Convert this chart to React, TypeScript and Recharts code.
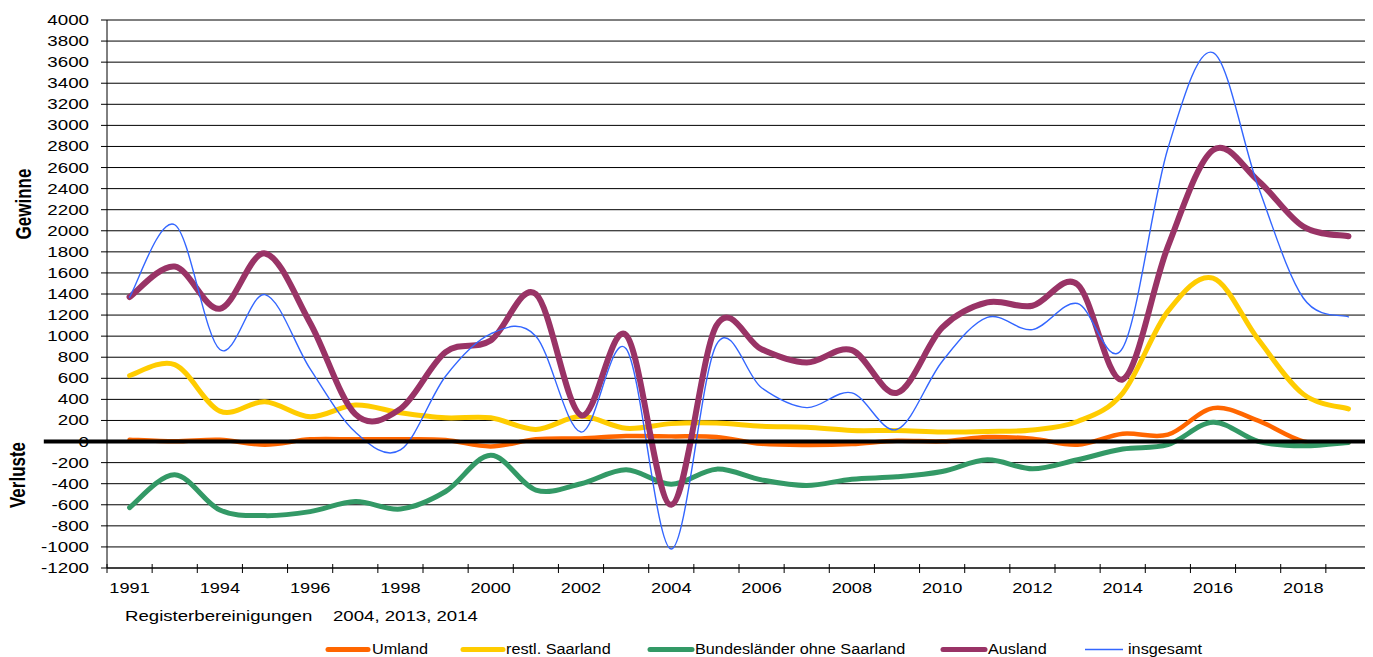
import React from 'react';
import { LineChart, Line, XAxis, YAxis, CartesianGrid, ReferenceLine } from 'recharts';

// ---------- data ----------
const categories = [
  '1991', '1993', '1994', '1995', '1996', '1997', '1998', '1999', '2000', '2001',
  '2002', '2003', '2004', '2005', '2006', '2007', '2008', '2009', '2010', '2011',
  '2012', '2013', '2014', '2015', '2016', '2017', '2018', '2019',
];
const umland = [18, 2, 17, -30, 21, 21, 21, 14, -46, 21, 30, 52, 49, 43, -21, -33, -24, 8, 2, 43, 27, -30, 74, 65, 317, 198, 2, -8];
const restlSaarland = [625, 730, 289, 378, 235, 346, 273, 225, 225, 115, 240, 125, 170, 175, 145, 135, 105, 105, 90, 95, 110, 190, 460, 1235, 1550, 970, 450, 310];
const bundeslaender = [-627, -316, -650, -703, -665, -570, -640, -474, -131, -460, -400, -268, -405, -262, -364, -417, -357, -335, -284, -173, -259, -173, -71, -30, 183, 2, -40, -8];
const ausland = [1371, 1660, 1260, 1785, 1125, 260, 310, 848, 959, 1400, 250, 1010, -600, 1100, 875, 750, 868, 462, 1080, 1320, 1288, 1490, 590, 1850, 2765, 2475, 2040, 1948];
const insgesamt = [1370, 2057, 873, 1394, 689, 90, -80, 620, 1022, 1000, 90, 880, -1020, 920, 510, 322, 462, 115, 760, 1178, 1062, 1310, 889, 2780, 3690, 2420, 1362, 1183];

const yTicks = [4000, 3800, 3600, 3400, 3200, 3000, 2800, 2600, 2400, 2200, 2000, 1800, 1600, 1400, 1200, 1000, 800, 600, 400, 200, 0, -200, -400, -600, -800, -1000, -1200];
const xBoundaries = [0, 1, 2, 3, 4, 5, 6, 7, 8, 9, 10, 11, 12, 13, 14, 15, 16, 17, 18, 19, 20, 21, 22, 23, 24, 25, 26, 27, 28];

const seriesDefs = [
  { key: 'umland', name: 'Umland', color: '#FF6600', width: 4.5 },
  { key: 'restl', name: 'restl. Saarland', color: '#FFCC00', width: 5 },
  { key: 'bund', name: 'Bundesländer ohne Saarland', color: '#339966', width: 5 },
  { key: 'ausland', name: 'Ausland', color: '#993366', width: 6 },
  { key: 'gesamt', name: 'insgesamt', color: '#3366FF', width: 1.4 },
];

const rows = categories.map((c, i) => ({
  x: i + 0.5,
  cat: c,
  umland: umland[i],
  restl: restlSaarland[i],
  bund: bundeslaender[i],
  ausland: ausland[i],
  gesamt: insgesamt[i],
}));

// ---------- layout ----------
const W = 1365;
const H = 649;
const LEFT = 99;
const RIGHT_M = 2;
const TOP_M = 12;
const X_AXIS_H = 89;
const PLOT_W = W - LEFT - RIGHT_M;
const BAND = PLOT_W / categories.length;
const FONT = '"Liberation Sans", Arial, Helvetica, sans-serif';

// legend layout (svg coords)
const legendLayout = [
  { x1: 320, x2: 360, tx: 364 },
  { x1: 455, x2: 495, tx: 498 },
  { x1: 642, x2: 684, tx: 687 },
  { x1: 935, x2: 977, tx: 980 },
  { x1: 1077, x2: 1115, tx: 1120 },
];
const LEGEND_LINE_Y = 641.5;
const LEGEND_TEXT_Y = 645.5;

// Excel-like smoothed line (Catmull-Rom as cubic Bezier)
const excelSmooth = (context: any) => {
  let pts: number[][] = [];
  return {
    areaStart() {},
    areaEnd() {},
    lineStart() {
      pts = [];
    },
    point(x: number, y: number) {
      pts.push([+x, +y]);
    },
    lineEnd() {
      const n = pts.length;
      if (!n) return;
      context.moveTo(pts[0][0], pts[0][1]);
      for (let i = 0; i < n - 1; i++) {
        const p0 = pts[i === 0 ? 0 : i - 1];
        const p1 = pts[i];
        const p2 = pts[i + 1];
        const p3 = pts[i + 2 < n ? i + 2 : n - 1];
        context.bezierCurveTo(
          p1[0] + (p2[0] - p0[0]) / 6,
          p1[1] + (p2[1] - p0[1]) / 6,
          p2[0] - (p3[0] - p1[0]) / 6,
          p2[1] - (p3[1] - p1[1]) / 6,
          p2[0],
          p2[1]
        );
      }
    },
  };
};

const XTick = (props: any) => {
  const { x, y, payload } = props;
  const v = payload.value;
  const label = v % 2 === 0 && v < categories.length ? categories[v] : null;
  return (
    <g>
      <line x1={x} x2={x} y1={y - 4} y2={y + 5} stroke="#000" strokeWidth={1} />
      {label && (
        <text
          transform={`translate(${x + BAND / 2},${y + 25}) scale(1.3,1)`}
          textAnchor="middle"
          fontSize={14}
          fontFamily={FONT}
          fill="#000"
        >
          {label}
        </text>
      )}
    </g>
  );
};

const YTick = (props: any) => {
  const { x, y, payload } = props;
  return (
    <text
      transform={`translate(${x},${y + 5}) scale(1.34,1)`}
      textAnchor="end"
      fontSize={14}
      fontFamily={FONT}
      fill="#000"
    >
      {payload.value}
    </text>
  );
};

export default function App() {
  return (
    <div style={{ position: 'relative', width: W, height: H, fontFamily: FONT, background: '#fff' }}>
      <style>{'body{overflow:hidden;background:#fff}'}</style>
      <LineChart width={W} height={H} data={rows} margin={{ top: TOP_M, right: RIGHT_M, bottom: 0, left: 0 }}>
        <CartesianGrid horizontal vertical={false} stroke="#000" strokeWidth={1} />
        <XAxis
          type="number"
          dataKey="x"
          domain={[0, categories.length]}
          ticks={xBoundaries}
          interval={0}
          height={X_AXIS_H}
          axisLine={{ stroke: '#000', strokeWidth: 1 }}
          tickLine={false}
          tickSize={0}
          tickMargin={0}
          tick={<XTick />}
        />
        <YAxis
          type="number"
          domain={[-1200, 4000]}
          ticks={yTicks}
          interval={0}
          width={LEFT}
          axisLine={{ stroke: '#000', strokeWidth: 1 }}
          tickLine={{ stroke: '#000', strokeWidth: 1 }}
          tickSize={6}
          tickMargin={12}
          tick={<YTick />}
        />
        <ReferenceLine x={categories.length} stroke="#000" strokeWidth={1} />
        {seriesDefs.map((s) => (
          <Line
            key={s.key}
            dataKey={s.key}
            name={s.name}
            type={excelSmooth as any}
            stroke={s.color}
            strokeWidth={s.width}
            strokeLinecap="round"
            strokeLinejoin="round"
            dot={false}
            activeDot={false}
            isAnimationActive={false}
          />
        ))}
        <ReferenceLine
          segment={[{ x: -1.4, y: 0 }, { x: categories.length, y: 0 }]}
          stroke="#000"
          strokeWidth={4}
          ifOverflow="visible"
        />
      </LineChart>
      <svg
        width={W}
        height={H}
        style={{ position: 'absolute', left: 0, top: 0, pointerEvents: 'none', overflow: 'visible' }}
      >
        <text
          transform="translate(23,196) rotate(-90) scale(1,1.3)"
          textAnchor="middle"
          fontSize={17}
          fontWeight="bold"
          fontFamily={FONT}
          fill="#000"
        >
          Gewinne
        </text>
        <text
          transform="translate(17,467) rotate(-90) scale(1,1.3)"
          textAnchor="middle"
          fontSize={17}
          fontWeight="bold"
          fontFamily={FONT}
          fill="#000"
        >
          Verluste
        </text>
        <text transform="translate(117,613) scale(1.33,1)" fontSize={14} fontFamily={FONT} fill="#000">
          Registerbereinigungen
        </text>
        <text transform="translate(325,613) scale(1.33,1)" fontSize={14} fontFamily={FONT} fill="#000">
          2004,  2013,  2014
        </text>
        {seriesDefs.map((s, i) => {
          const L = legendLayout[i];
          return (
            <g key={s.key}>
              <line
                x1={L.x1}
                x2={L.x2}
                y1={LEGEND_LINE_Y}
                y2={LEGEND_LINE_Y}
                stroke={s.color}
                strokeWidth={s.width > 2 ? 5 : 1.5}
                strokeLinecap={s.width > 2 ? 'round' : 'butt'}
              />
              <text
                transform={`translate(${L.tx},${LEGEND_TEXT_Y}) scale(1.16,1)`}
                fontSize={14}
                fontFamily={FONT}
                fill="#000"
                style={{ whiteSpace: 'pre' }}
              >
                {s.name}
              </text>
            </g>
          );
        })}
      </svg>
    </div>
  );
}
